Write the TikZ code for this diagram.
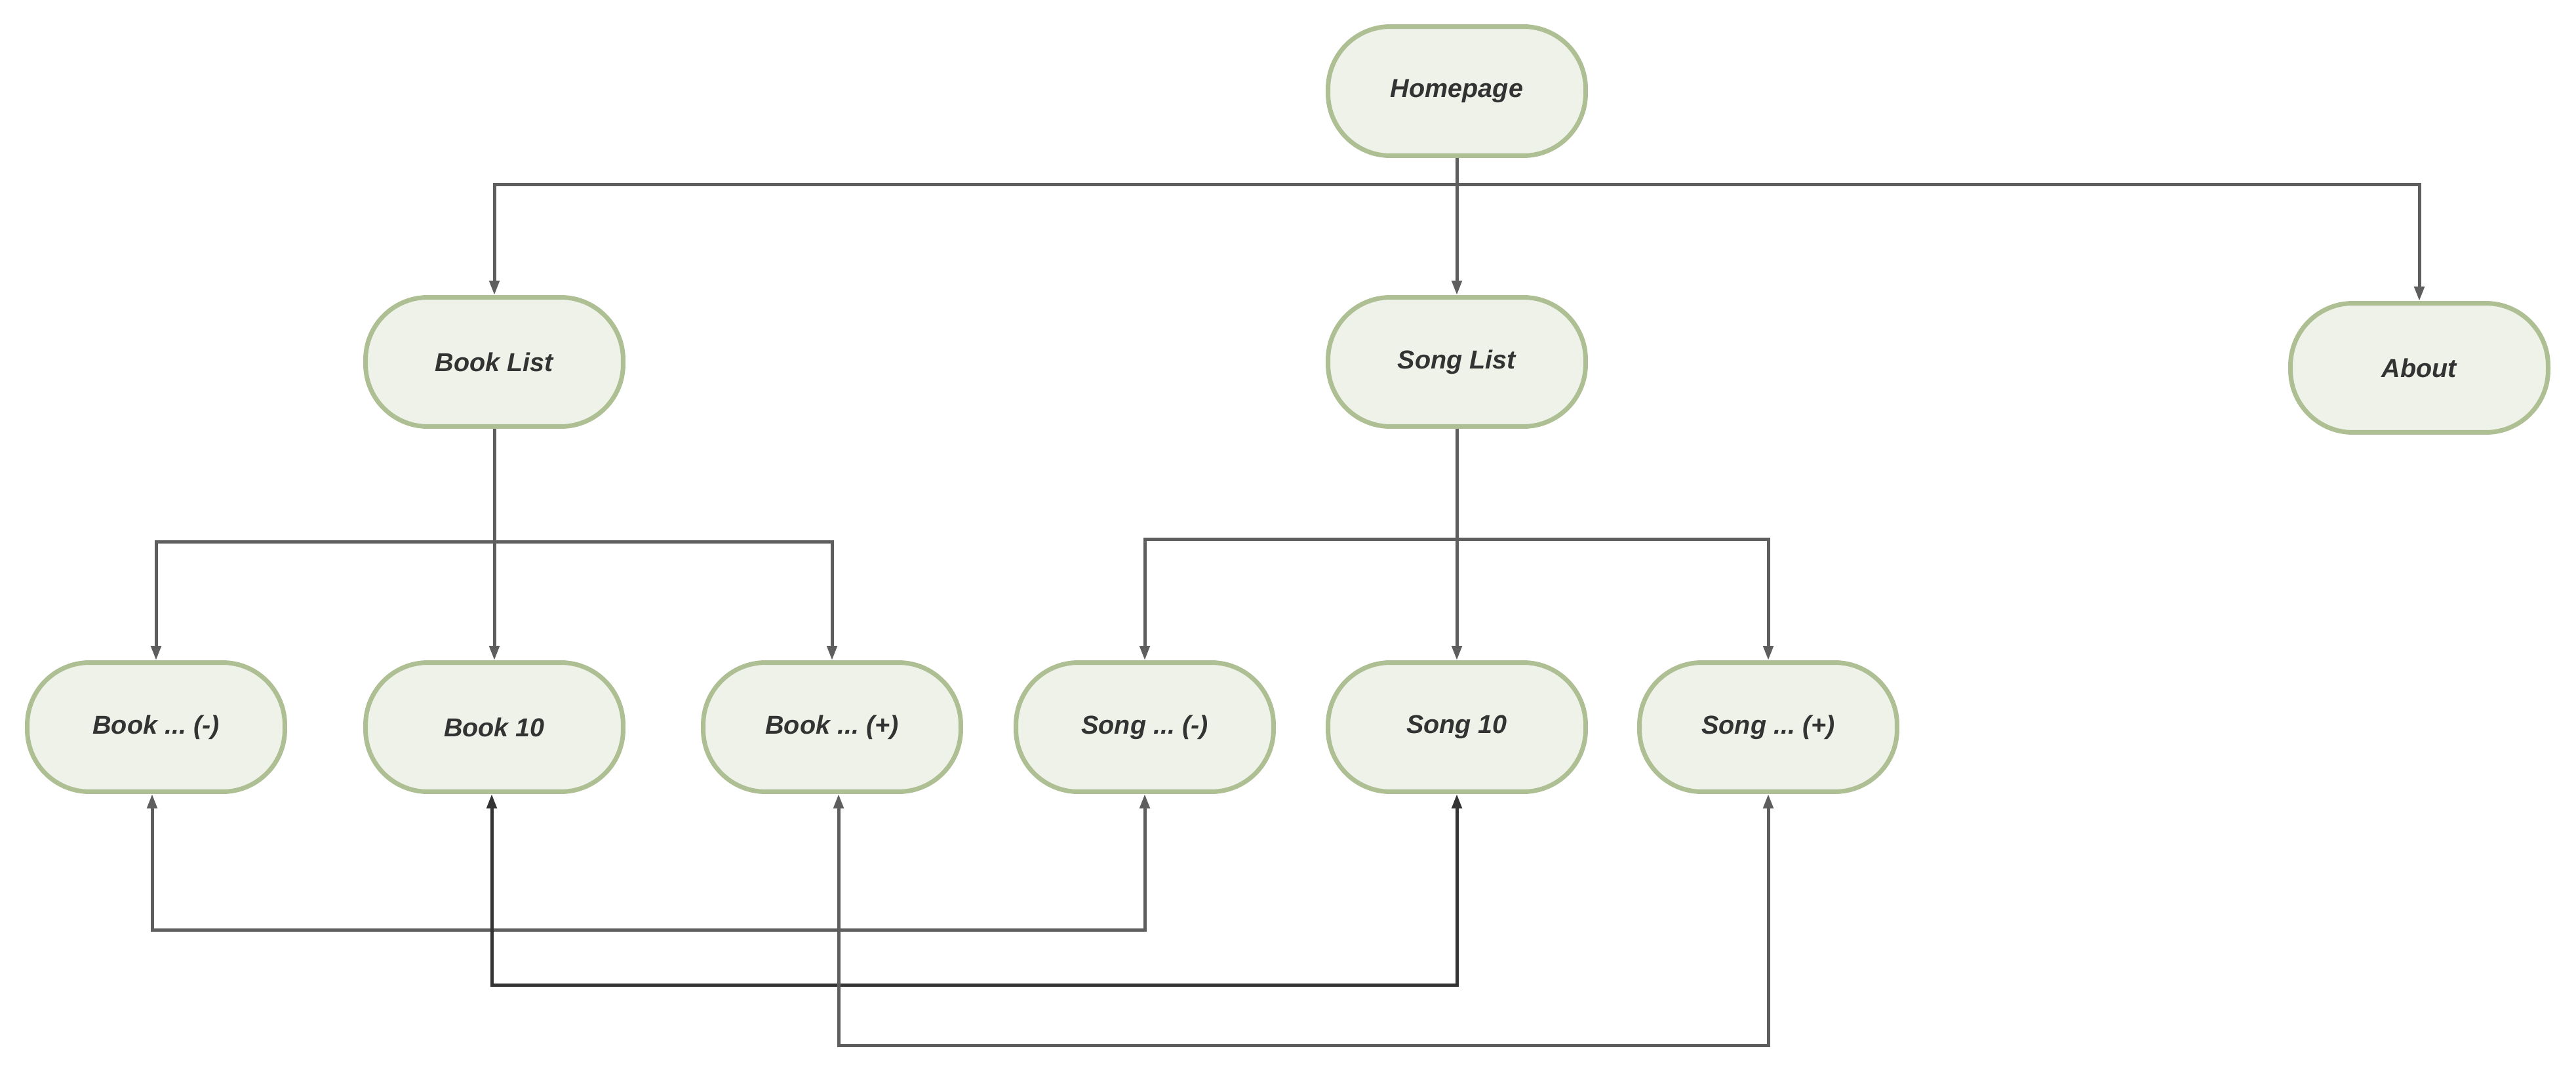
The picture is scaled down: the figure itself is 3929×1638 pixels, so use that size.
\documentclass[tikz,border=0pt]{standalone}
\usepackage{fontspec}
\setmainfont{Liberation Sans}
\frenchspacing
\usetikzlibrary{arrows.meta,calc}
\definecolor{nodefill}{HTML}{EEF2E8}
\definecolor{nodeedge}{HTML}{AEBF94}
\definecolor{txt}{HTML}{333333}
\definecolor{linegray}{HTML}{5E5E5E}
\definecolor{linedark}{HTML}{333333}
\tikzset{
  pagebox/.style={draw=nodeedge, fill=nodefill, line width=1.4mm, rounded corners=1.9cm,
    minimum width=7.86cm, minimum height=3.94cm, inner sep=0pt,
    font=\fontsize{22.5}{27}\selectfont\bfseries\itshape, text=txt},
  conn/.style={draw=linegray, line width=1mm, -{Triangle[length=0.44cm,width=0.3cm]}},
  bidir/.style={draw=linegray, line width=1mm, {Triangle[length=0.44cm,width=0.3cm]}-{Triangle[length=0.44cm,width=0.3cm]}},
  bidirdark/.style={draw=linedark, line width=1mm, {Triangle[length=0.44cm,width=0.3cm]}-{Triangle[length=0.44cm,width=0.3cm]}},
}
\begin{document}
\begin{tikzpicture}[x=0.02cm,y=-0.02cm]
\useasboundingbox (0,0) rectangle (3929,1638);
\node[pagebox] (home) at (2222,139) {Homepage};
\node[pagebox] (booklist) at (754,552) {Book List};
\node[pagebox] (songlist) at (2222,552) {Song List};
\node[pagebox] (about) at (3690,561) {About};
\node[pagebox] (bookm) at (238,1109) {Book ... (-)};
\node[pagebox] (bookten) at (754,1109) {Book 10};
\node[pagebox] (bookp) at (1269,1109) {Book ... (+)};
\node[pagebox] (songm) at (1746,1109) {Song ... (-)};
\node[pagebox] (songten) at (2222,1109) {Song 10};
\node[pagebox] (songp) at (2697,1109) {Song ... (+)};

\coordinate (jtop) at (2222,282);
\coordinate (jbook) at (754,826);
\coordinate (jsong) at (2222,822);
\coordinate (r1) at (1000,1418);
\coordinate (r2) at (1500,1502);
\coordinate (r3) at (2000,1594);

% top level
\draw[conn] (home.south) -- (songlist.north);
\draw[conn] (jtop) -| (booklist.north);
\draw[conn] (jtop) -| (about.north);

% book list
\draw[conn] (booklist.south) -- (bookten.north);
\draw[conn] (jbook) -| (bookm.north);
\draw[conn] (jbook) -| (bookp.north);

% song list
\draw[conn] (songlist.south) -- (songten.north);
\draw[conn] (jsong) -| (songm.north);
\draw[conn] (jsong) -| (songp.north);

% cross links
\draw[bidir] ([xshift=-0.12cm]bookm.south) |- (r1) -| (songm.south);
\draw[bidirdark] ([xshift=-0.08cm]bookten.south) |- (r2) -| (songten.south);
\draw[bidir] ([xshift=0.2cm]bookp.south) |- (r3) -| (songp.south);
\end{tikzpicture}
\end{document}
